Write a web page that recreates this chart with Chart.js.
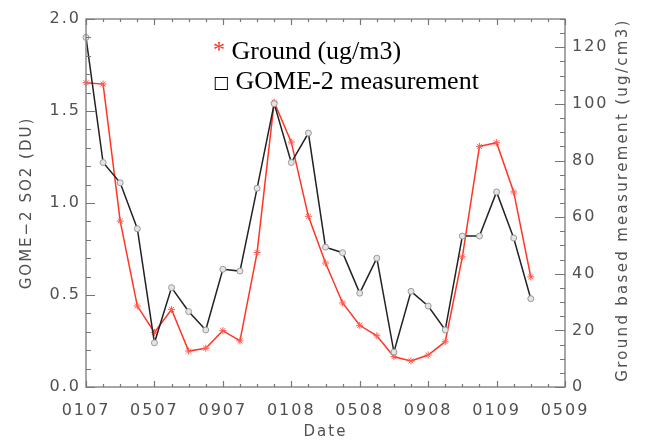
<!DOCTYPE html>
<html>
<head>
<meta charset="utf-8">
<script src="https://cdn.jsdelivr.net/npm/chart.js@4"></script>
<style>
  body { margin: 0; background: #fff; }
  #wrap { position: relative; width: 645px; height: 444px; }
  #legend {
    position: absolute; left: 213px; top: 34px;
    font-family: 'Liberation Serif', serif; font-size: 26px; line-height: 30px; color: #000;
  }
  #legend .star { color: #ff2a1f; font-size: 24px; vertical-align: 2px; }
  #legend .box { font-family: 'DejaVu Sans', sans-serif; font-size: 17px; vertical-align: 1px; }
</style>
</head>
<body>
<div id="wrap">
  <canvas id="myChart" width="645" height="444"></canvas>
  <div id="legend">
    <div><span class="star">*</span> Ground (ug/m3)</div>
    <div><span class="box">□</span> GOME-2 measurement</div>
  </div>
</div>
<script>
// months Jan 2007 .. May 2009 (MMYY)
const months = ['0107','0207','0307','0407','0507','0607','0707','0807','0907','1007','1107','1207',
                '0108','0208','0308','0408','0508','0608','0708','0808','0908','1008','1108','1208',
                '0109','0209','0309','0409','0509'];

// GOME-2 SO2 (DU), left axis
const gome = [1.90, 1.22, 1.11, 0.86, 0.24, 0.54, 0.41, 0.31, 0.64, 0.63, 1.08, 1.54,
              1.22, 1.38, 0.76, 0.73, 0.51, 0.70, 0.19, 0.52, 0.44, 0.31, 0.82, 0.82,
              1.06, 0.81, 0.48];

// ground based measurement (ug/m3), right axis
const ground = [107.5, 107, 58.6, 28.6, 19.3, 27.4, 12.7, 13.7, 19.9, 16.3, 47.5, 100.6,
                86.5, 60.3, 43.8, 29.7, 21.8, 18.1, 10.7, 9.2, 11.3, 16.0, 46.0, 85.0,
                86.3, 68.9, 38.9];

const leftTicks = { min: 0, max: 2, step: 0.5, minor: 0.1 };
const rightTicks = { min: 0, max: 130, step: 20, minor: 5 };

const axisGrey = '#8a8a8a';
const textGrey = '#505050';
const tickFont = { family: 'DejaVu Sans', size: 16 };

// inward ticks, frame and the right axis title
const framePlugin = {
    id: 'frame',
    beforeDraw(chart) {
        chart.ctx.letterSpacing = '2px';
    },
    afterDraw(chart) {
        const { ctx, chartArea: a, scales } = chart;
        ctx.save();
        ctx.strokeStyle = axisGrey;
        ctx.lineWidth = 1.5;
        ctx.strokeRect(a.left, a.top, a.right - a.left, a.bottom - a.top);

        ctx.strokeStyle = '#777';
        ctx.lineWidth = 1.2;
        ctx.beginPath();
        months.forEach((m, i) => {
            const px = Math.round(scales.x.getPixelForValue(i)) + 0.5;
            const len = i % 4 === 0 ? 6 : 3;
            ctx.moveTo(px, a.bottom);
            ctx.lineTo(px, a.bottom - len);
            ctx.moveTo(px, a.top);
            ctx.lineTo(px, a.top + len);
        });
        for (let v = leftTicks.min; v <= leftTicks.max + 1e-9; v += leftTicks.minor) {
            const py = Math.round(scales.y.getPixelForValue(v)) + 0.5;
            const major = Math.abs(v / leftTicks.step - Math.round(v / leftTicks.step)) < 1e-6;
            ctx.moveTo(a.left, py);
            ctx.lineTo(a.left + (major ? 9 : 5), py);
        }
        for (let v = rightTicks.min; v <= rightTicks.max; v += rightTicks.minor) {
            const py = Math.round(scales.y2.getPixelForValue(v)) + 0.5;
            const major = v % rightTicks.step === 0;
            ctx.moveTo(a.right, py);
            ctx.lineTo(a.right - (major ? 10 : 5), py);
        }
        ctx.stroke();

        // right axis title reads bottom to top
        ctx.translate(623, (a.top + a.bottom) / 2 - 3);
        ctx.rotate(-Math.PI / 2);
        ctx.font = '15px "DejaVu Sans"';
        ctx.fillStyle = textGrey;
        ctx.textAlign = 'center';
        ctx.textBaseline = 'middle';
        ctx.letterSpacing = '2.3px';
        ctx.fillText('Ground based measurement (ug/cm3)', 0, 0);
        ctx.restore();
    }
};

const ctx = document.getElementById('myChart').getContext('2d');
const myChart = new Chart(ctx, {
    type: 'line',
    data: {
        labels: months,
        datasets: [
            {
                label: 'GOME-2 measurement',
                data: gome,
                yAxisID: 'y',
                borderColor: '#222',
                borderWidth: 1.5,
                pointStyle: 'circle',
                pointRadius: 3,
                pointBorderColor: '#999',
                pointBackgroundColor: '#e4e4e4',
                pointBorderWidth: 1,
                tension: 0
            },
            {
                label: 'Ground (ug/m3)',
                data: ground,
                yAxisID: 'y2',
                borderColor: '#ff3526',
                borderWidth: 1.5,
                pointStyle: 'star',
                pointRadius: 3.5,
                pointBorderColor: '#ff5a4e',
                pointBorderWidth: 1,
                tension: 0
            }
        ]
    },
    options: {
        responsive: false,
        animation: false,
        layout: { padding: { top: 19, left: 0, right: 0, bottom: 0 } },
        plugins: {
            legend: { display: false },
            tooltip: { enabled: false }
        },
        scales: {
            x: {
                offset: false,
                grid: { display: false, drawTicks: false },
                border: { display: false },
                ticks: {
                    autoSkip: false,
                    maxRotation: 0,
                    padding: 14,
                    color: textGrey,
                    font: tickFont,
                    callback: (v, i) => (i % 4 === 0 ? months[i] : '')
                },
                title: {
                    display: true, text: 'Date', color: textGrey,
                    font: { family: 'DejaVu Sans', size: 15 },
                    padding: { top: 0, bottom: 3 }
                },
                afterFit: s => { s.height = 57; }
            },
            y: {
                position: 'left',
                min: leftTicks.min, max: leftTicks.max,
                grid: { display: false, drawTicks: false },
                border: { display: false },
                ticks: {
                    stepSize: leftTicks.step, padding: 5, color: textGrey, font: tickFont,
                    callback: v => v.toFixed(1)
                },
                title: {
                    display: true, text: 'GOME\u22122 SO2 (DU)', color: textGrey,
                    font: { family: 'DejaVu Sans', size: 15 },
                    padding: { top: 18, bottom: 0 }
                },
                afterFit: s => { s.width = 86; }
            },
            y2: {
                position: 'right',
                min: rightTicks.min, max: rightTicks.max,
                grid: { display: false, drawTicks: false },
                border: { display: false },
                ticks: {
                    stepSize: rightTicks.step, includeBounds: false, padding: 7,
                    color: textGrey, font: tickFont
                },
                afterFit: s => { s.width = 80; }
            }
        }
    },
    plugins: [framePlugin]
});
</script>
</body>
</html>
